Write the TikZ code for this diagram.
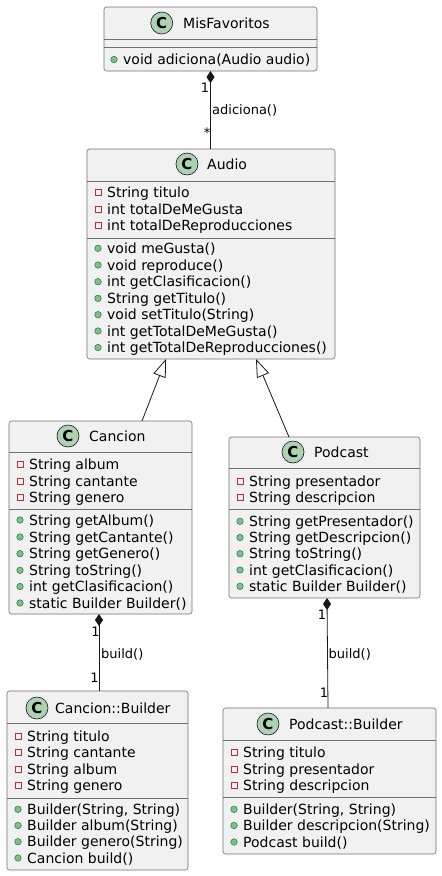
\documentclass[tikz,border=0pt]{standalone}
\usepackage{fontspec}
\setmainfont{DejaVu Sans}
\usetikzlibrary{arrows.meta,calc}
\definecolor{bordc}{HTML}{181818}
\definecolor{boxbord}{HTML}{707070}
\definecolor{boxfill}{HTML}{F1F1F1}
\definecolor{circfill}{HTML}{ADD1B2}
\definecolor{privc}{HTML}{C82930}
\definecolor{pubfill}{HTML}{84BE84}
\definecolor{pubdraw}{HTML}{038048}
\tikzset{
 classbox/.style={draw=boxbord, fill=boxfill, line width=0.6pt, rounded corners=2.5pt, anchor=north west, inner sep=0pt, outer sep=0pt},
 sepline/.style={draw=boxbord, line width=0.6pt},
 cicon/.style={circle, draw=bordc, fill=circfill, line width=0.6pt, minimum size=22pt, inner sep=0pt, font=\fontsize{15}{15}\selectfont\bfseries},
 ctitle/.style={anchor=base west, inner sep=0pt, font=\fontsize{14}{16}\selectfont},
 member/.style={anchor=base west, inner sep=0pt, font=\fontsize{14}{16}\selectfont},
 privicon/.style={rectangle, draw=privc, line width=0.6pt, minimum size=6pt, inner sep=0pt},
 pubicon/.style={circle, draw=pubdraw, fill=pubfill, line width=0.5pt, minimum size=6.5pt, inner sep=0pt},
 conn/.style={draw=bordc, line width=0.8pt},
 lbl/.style={anchor=base, inner sep=0pt, font=\fontsize{13}{15}\selectfont},
}
\newcommand\pvm[4]{\node[privicon] (#1i) at (#2,#3) {}; \node[member] (#1) at (#2+9,#3+5) {#4};}
\newcommand\pbm[4]{\node[pubicon] (#1i) at (#2,#3) {}; \node[member] (#1) at (#2+9,#3+5) {#4};}
\begin{document}
\begin{tikzpicture}[x=1pt,y=-1pt]
\useasboundingbox (0,0) rectangle (442,876);
\fill[white] (0,0) rectangle (442,876);

% MisFavoritos
\node[classbox, minimum width=213pt, minimum height=64pt] (mis) at (104,7) {};
\draw[sepline] (104,39) -- (317,39);
\draw[sepline] (104,47) -- (317,47);
\node[cicon] (misc) at (161.7,23) {C};
\node[ctitle] (mist) at (183,28) {MisFavoritos};
\pbm{m1}{114}{59.5}{void adiciona(Audio audio)}

% Audio
\node[classbox, minimum width=248pt, minimum height=210pt] (audio) at (87,149) {};
\draw[sepline] (87,181) -- (335,181);
\draw[sepline] (87,238) -- (335,238);
\node[cicon] (audioc) at (187,164) {C};
\node[ctitle] (audiot) at (207,169) {Audio};
\pvm{a1}{98}{192.3}{String titulo}
\pvm{a2}{98}{209}{int totalDeMeGusta}
\pvm{a3}{98}{225.3}{int totalDeReproducciones}
\pbm{a4}{98}{248.3}{void meGusta()}
\pbm{a5}{98}{265}{void reproduce()}
\pbm{a6}{98}{281.7}{int getClasificacion()}
\pbm{a7}{98}{298.3}{String getTitulo()}
\pbm{a8}{98}{314.7}{void setTitulo(String)}
\pbm{a9}{98}{331}{int getTotalDeMeGusta()}
\pbm{a10}{98}{347.5}{int getTotalDeReproducciones()}

% Cancion
\node[classbox, minimum width=183pt, minimum height=193pt] (cancion) at (9,421) {};
\draw[sepline] (9,452) -- (192,452);
\draw[sepline] (9,509) -- (192,509);
\node[cicon] (cancionc) at (68,436) {C};
\node[ctitle] (canciont) at (89,441) {Cancion};
\pvm{c1}{20}{464.3}{String album}
\pvm{c2}{20}{481}{String cantante}
\pvm{c3}{20}{497.7}{String genero}
\pbm{c4}{20}{520}{String getAlbum()}
\pbm{c5}{20}{537}{String getCantante()}
\pbm{c6}{20}{553.7}{String getGenero()}
\pbm{c7}{20}{570.3}{String toString()}
\pbm{c8}{20}{586.5}{int getClasificacion()}
\pbm{c9}{20}{603}{static Builder Builder()}

% Podcast
\node[classbox, minimum width=191pt, minimum height=161pt] (podcast) at (229,437) {};
\draw[sepline] (229,468) -- (420,468);
\draw[sepline] (229,509) -- (420,509);
\node[cicon] (podcastc) at (293,452) {C};
\node[ctitle] (podcastt) at (314,457) {Podcast};
\pvm{p1}{240}{481}{String presentador}
\pvm{p2}{240}{497.3}{String descripcion}
\pbm{p3}{240}{521.3}{String getPresentador()}
\pbm{p4}{240}{537.5}{String getDescripcion()}
\pbm{p5}{240}{553.7}{String toString()}
\pbm{p6}{240}{570}{int getClasificacion()}
\pbm{p7}{240}{586.3}{static Builder Builder()}

% Cancion::Builder
\node[classbox, minimum width=181pt, minimum height=179pt] (cb) at (7,691) {};
\draw[sepline] (7,723) -- (188,723);
\draw[sepline] (7,798) -- (188,798);
\node[cicon] (cbc) at (37,708) {C};
\node[ctitle] (cbt) at (55,713) {Cancion::Builder};
\pvm{b1}{18}{736}{String titulo}
\pvm{b2}{18}{752.3}{String cantante}
\pvm{b3}{18}{769}{String album}
\pvm{b4}{18}{785.3}{String genero}
\pbm{b5}{18}{809.3}{Builder(String, String)}
\pbm{b6}{18}{825.5}{Builder album(String)}
\pbm{b7}{18}{841.7}{Builder genero(String)}
\pbm{b8}{18}{858}{Cancion build()}

% Podcast::Builder
\node[classbox, minimum width=213pt, minimum height=146pt] (pb) at (223,708) {};
\draw[sepline] (223,740) -- (436,740);
\draw[sepline] (223,797) -- (436,797);
\node[cicon] (pbc) at (268,724) {C};
\node[ctitle] (pbt) at (289,729) {Podcast::Builder};
\pvm{q1}{234}{752.3}{String titulo}
\pvm{q2}{234}{769}{String presentador}
\pvm{q3}{234}{785.3}{String descripcion}
\pbm{q4}{234}{809.3}{Builder(String, String)}
\pbm{q5}{234}{825.5}{Builder descripcion(String)}
\pbm{q6}{234}{842}{Podcast build()}

% connectors
\draw[conn, {Diamond[length=12pt,width=8pt]}-] (mis.south) -- (mis.south |- audio.north);
\node[lbl] (l1) at (205,92) {1};
\node[lbl, anchor=base west] (l2) at (212,114) {adiciona()};
\node[lbl] (l3) at (207,137) {*};

\draw[conn, -{Triangle[open,length=18pt,width=13pt]}] ($(cancion.north west)+(133,0)$) -- ($(audio.south west)+(79,0)$);
\draw[conn, -{Triangle[open,length=18pt,width=13pt]}] ($(podcast.north west)+(60,0)$) -- ($(audio.south west)+(169,0)$);

\draw[conn, {Diamond[length=12pt,width=8pt]}-] ($(cancion.south west)+(90,0)$) -- ($(cb.north west)+(92,0)$);
\node[lbl] (l4) at (95.5,636) {1};
\node[lbl, anchor=base west] (l5) at (101,658) {build()};
\node[lbl] (l6) at (94.5,682) {1};

\draw[conn, {Diamond[length=12pt,width=8pt]}-] ($(podcast.south west)+(98,0)$) -- ($(pb.north west)+(105,0)$);
\node[lbl] (l7) at (322,619) {1};
\node[lbl, anchor=base west] (l8) at (328.5,658) {build()};
\node[lbl] (l9) at (324,697) {1};
\end{tikzpicture}
\end{document}
